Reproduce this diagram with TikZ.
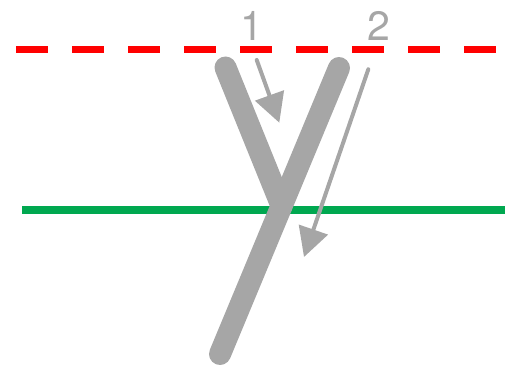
\documentclass[tikz,border=0pt]{standalone}
\usepackage{fontspec}
\setmainfont{TeX Gyre Heros}
\usetikzlibrary{arrows.meta}
\definecolor{grayY}{RGB}{166,166,166}
\definecolor{redD}{RGB}{255,0,0}
\definecolor{greenL}{RGB}{0,168,80}
\tikzset{
  ystroke/.style={draw=grayY, line width=22pt, line cap=round},
  garrow/.style={draw=grayY, line width=4pt, line cap=round,
    -{Triangle[length=29pt,width=30pt]}, color=grayY},
  lbl/.style={text=grayY, inner sep=0pt, anchor=base,
    font=\fontsize{41}{41}\selectfont},
  reddash/.style={draw=redD, line width=7pt, dash pattern=on 32pt off 24pt},
  greenline/.style={draw=greenL, line width=8pt}
}
\begin{document}
\begin{tikzpicture}[x=1pt,y=-1pt]
\useasboundingbox (0,0) rectangle (505,366);
% reference lines
\coordinate (rL) at (16,49.5);
\coordinate (rR) at (496,49.5);
\coordinate (gL) at (22,210);
\coordinate (gR) at (505,210);
\draw[reddash] (rL) -- (rR);
\draw[greenline] (gL) -- (gR);
% Y shape
\coordinate (lt) at (225.5,67.5);
\coordinate (rt) at (339,68);
\coordinate (jn) at (281.6,206);
\coordinate (bt) at (220,354);
\draw[ystroke] (rt) -- (bt);
\draw[ystroke] (lt) -- (jn);
% arrows
\coordinate (a1s) at (256.7,60);
\coordinate (a1e) at (279.3,122.7);
\coordinate (a2s) at (368.3,69.3);
\coordinate (a2e) at (304,257);
\draw[garrow] (a1s) -- (a1e);
\draw[garrow] (a2s) -- (a2e);
% labels
\node[lbl] (l1) at (252,40.7) {1};
\node[lbl] (l2) at (378.5,40.7) {2};
\end{tikzpicture}
\end{document}
